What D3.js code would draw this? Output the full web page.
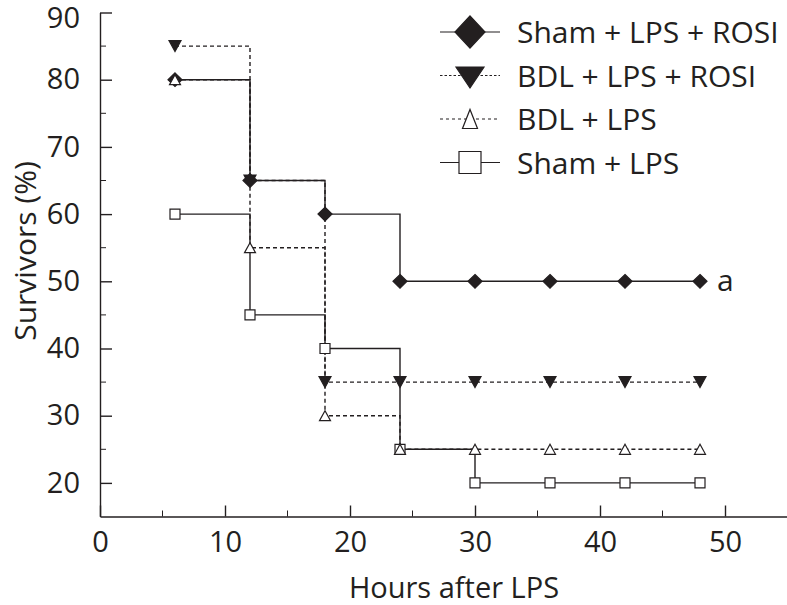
<!DOCTYPE html>
<html>
<head>
<meta charset="utf-8">
<script src="https://cdn.jsdelivr.net/npm/d3@7"></script>
<style>
  body { margin: 0; background: #fff; }
  text { font-family: "Open Sans", "Noto Sans", sans-serif; fill: #231f20; }
</style>
</head>
<body>
<div id="chart"></div>
<script>
// survival data
var hours = [6, 12, 18, 24, 30, 36, 42, 48];
var shamLpsRosi = [80, 65, 60, 50, 50, 50, 50, 50];
var bdlLpsRosi = [85, 65, 35, 35, 35, 35, 35, 35];
var bdlLps = [80, 55, 30, 25, 25, 25, 25, 25];
var shamLps = [60, 45, 40, 25, 20, 20, 20, 20];

var seriesNames = ["Sham + LPS + ROSI", "BDL + LPS + ROSI", "BDL + LPS", "Sham + LPS"];
var xTicks = [0, 10, 20, 30, 40, 50];
var yTicks = [20, 30, 40, 50, 60, 70, 80, 90];

var ink = "#231f20";
var width = 787, height = 605;

var svg = d3.select("#chart").append("svg")
    .attr("width", width)
    .attr("height", height);

var x = d3.scaleLinear().domain([0, 55]).range([100, 787.5]);
var y = d3.scaleLinear().domain([15, 90]).range([516.5, 12.5]);

// marker shapes
function diamond(w, h) {
    return "M0," + (-h) + "L" + w + ",0L0," + h + "L" + (-w) + ",0Z";
}
function triDown(w, h) {
    return "M" + (-w) + "," + (-h / 2) + "L" + w + "," + (-h / 2) + "L0," + (h / 2) + "Z";
}
function triUp(w, h) {
    return "M" + (-w) + "," + (h / 2) + "L" + w + "," + (h / 2) + "L0," + (-h / 2) + "Z";
}
function square(s) {
    return "M" + (-s) + "," + (-s) + "H" + s + "V" + s + "H" + (-s) + "Z";
}

var series = [
    { name: seriesNames[0], values: shamLpsRosi, dash: null, shape: diamond(7, 6.8), fill: ink, order: 1, legDash: null },
    { name: seriesNames[1], values: bdlLpsRosi, dash: "4,3", shape: triDown(6, 11), fill: ink, order: 0, legDash: "2.5,2" },
    { name: seriesNames[2], values: bdlLps, dash: "4,3", shape: triUp(5.5, 10), fill: "#fff", order: 3, legDash: "3,3" },
    { name: seriesNames[3], values: shamLps, dash: null, shape: square(5), fill: "#fff", order: 2, legDash: null }
];

// axes
var xAxis = d3.axisBottom(x).tickValues(xTicks).tickSize(-11).tickSizeOuter(0).tickPadding(15)
    .tickFormat(d3.format("d"));
var gx = svg.append("g")
    .attr("transform", "translate(0," + y(15) + ")")
    .call(xAxis);
gx.selectAll("text").style("font-size", "29px");

gx.selectAll(".minor")
    .data([5, 15, 25, 35, 45])
    .enter().append("line")
    .attr("x1", function (d) { return x(d); })
    .attr("x2", function (d) { return x(d); })
    .attr("y1", 0).attr("y2", -6)
    .attr("stroke", ink);

var yAxis = d3.axisLeft(y).tickValues(yTicks).tickSize(-12).tickSizeOuter(0).tickPadding(20);
var gy = svg.append("g")
    .attr("transform", "translate(" + x(0) + ",0)")
    .call(yAxis);
gy.selectAll("text").style("font-size", "29px");
// top label sits a little under its tick in the original
gy.selectAll(".tick text").filter(function (d) { return d === 90; }).attr("y", 5.5);

gy.selectAll(".minor")
    .data([25, 35, 45, 55, 65, 75, 85])
    .enter().append("line")
    .attr("y1", function (d) { return y(d); })
    .attr("y2", function (d) { return y(d); })
    .attr("x1", 0).attr("x2", 6)
    .attr("stroke", ink);

svg.selectAll(".domain, .tick line").attr("stroke", ink).attr("stroke-width", 1.4);
svg.selectAll(".tick text").attr("fill", ink);

// axis titles
svg.append("text")
    .attr("x", 454)
    .attr("y", 598)
    .attr("text-anchor", "middle")
    .style("font-size", "29px")
    .text("Hours after LPS");

svg.append("text")
    .attr("transform", "translate(36,251) rotate(-90)")
    .attr("text-anchor", "middle")
    .style("font-size", "30px")
    .text("Survivors (%)");

// step lines
var step = d3.line()
    .curve(d3.curveStepAfter)
    .x(function (d) { return x(d[0]); })
    .y(function (d) { return y(d[1]); });

series.forEach(function (s) {
    var pts = hours.map(function (h, i) { return [h, s.values[i]]; });
    svg.append("path")
        .datum(pts)
        .attr("d", step)
        .attr("fill", "none")
        .attr("stroke", ink)
        .attr("stroke-width", 1.4)
        .attr("stroke-dasharray", s.dash);
});

// markers, drawn in stacking order
series.slice().sort(function (a, b) { return a.order - b.order; }).forEach(function (s) {
    svg.append("g").selectAll("path")
        .data(hours.map(function (h, i) { return [h, s.values[i]]; }))
        .enter().append("path")
        .attr("transform", function (d) { return "translate(" + x(d[0]) + "," + y(d[1]) + ")"; })
        .attr("d", s.shape)
        .attr("fill", s.fill)
        .attr("stroke", ink)
        .attr("stroke-width", 1.2);
});

// significance mark
svg.append("text")
    .attr("x", x(48) + 17)
    .attr("y", y(50) + 10)
    .style("font-size", "30px")
    .text("a");

// legend
var legend = svg.append("g").attr("transform", "translate(440,32)");
var legShapes = [diamond(15, 16), triDown(14, 21), triUp(7.5, 19), square(11)];
series.forEach(function (s, i) {
    var row = legend.append("g").attr("transform", "translate(0," + (i * 43.5) + ")");
    row.append("line")
        .attr("x1", 0).attr("x2", 60)
        .attr("stroke", ink)
        .attr("stroke-width", 1.2)
        .attr("stroke-dasharray", s.legDash);
    row.append("path")
        .attr("transform", "translate(30," + (i === 1 ? 2 : 0) + ")")
        .attr("d", legShapes[i])
        .attr("fill", s.fill)
        .attr("stroke", ink)
        .attr("stroke-width", 1.2);
    row.append("text")
        .attr("x", 77)
        .attr("y", 11)
        .style("font-size", "30px")
        .text(s.name);
});
</script>
</body>
</html>
